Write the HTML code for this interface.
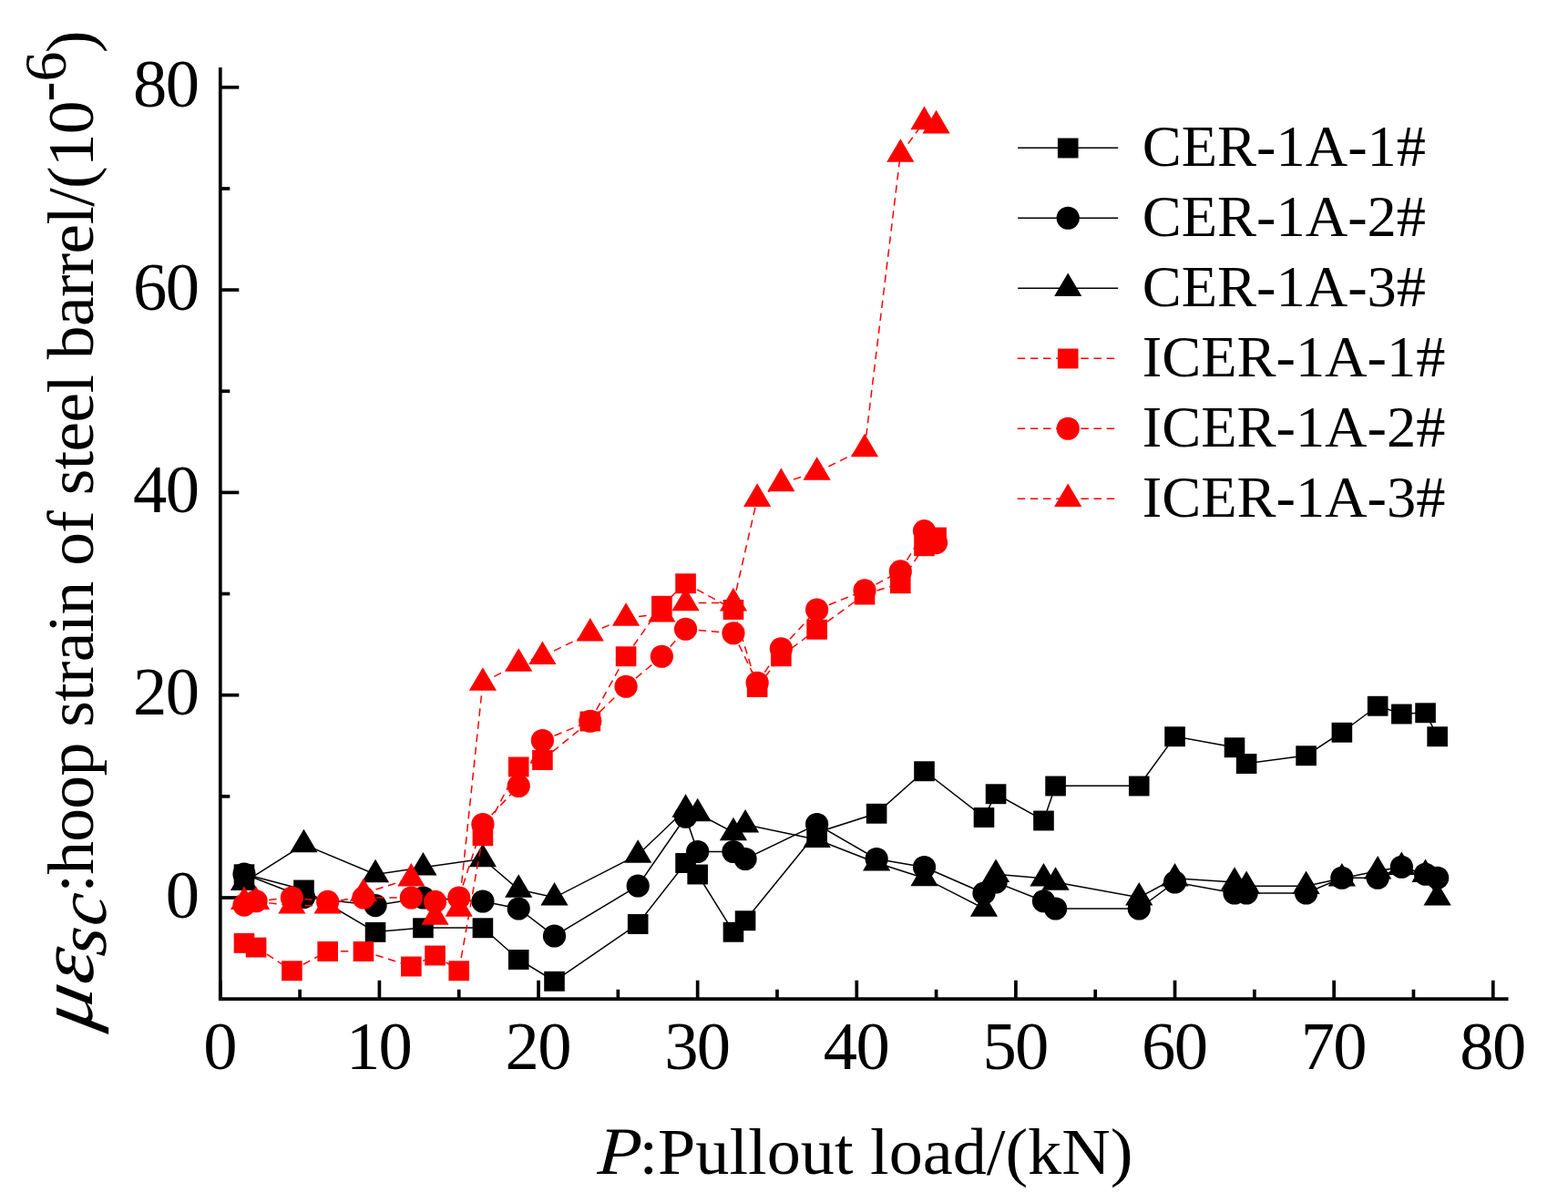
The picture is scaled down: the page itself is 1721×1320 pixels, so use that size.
<!DOCTYPE html>
<html lang="en">
<head>
<meta charset="utf-8">
<title>Hoop strain of steel barrel vs pullout load</title>
<style>
html,body{margin:0;padding:0;background:#fff;}
body{width:1721px;height:1320px;overflow:hidden;}
svg{display:block;}
svg text{font-family:"Liberation Serif","DejaVu Serif",serif;fill:#000;}
</style>
</head>
<body>
<svg width="1721" height="1320" viewBox="0 0 1721 1320">
<rect x="0" y="0" width="1721" height="1320" fill="#ffffff"/>
<g id="axes">
<line x1="241.8" y1="74" x2="241.8" y2="1098.05" stroke="#000" stroke-width="3.7"/>
<line x1="239.95" y1="1096.2" x2="1655.5" y2="1096.2" stroke="#000" stroke-width="3.7"/>
<line x1="241.8" y1="1096.2" x2="241.8" y2="1075.7" stroke="#000" stroke-width="3.7"/>
<line x1="329.11" y1="1096.2" x2="329.11" y2="1085.7" stroke="#000" stroke-width="3.7"/>
<line x1="416.42" y1="1096.2" x2="416.42" y2="1075.7" stroke="#000" stroke-width="3.7"/>
<line x1="503.73" y1="1096.2" x2="503.73" y2="1085.7" stroke="#000" stroke-width="3.7"/>
<line x1="591.04" y1="1096.2" x2="591.04" y2="1075.7" stroke="#000" stroke-width="3.7"/>
<line x1="678.35" y1="1096.2" x2="678.35" y2="1085.7" stroke="#000" stroke-width="3.7"/>
<line x1="765.66" y1="1096.2" x2="765.66" y2="1075.7" stroke="#000" stroke-width="3.7"/>
<line x1="852.97" y1="1096.2" x2="852.97" y2="1085.7" stroke="#000" stroke-width="3.7"/>
<line x1="940.28" y1="1096.2" x2="940.28" y2="1075.7" stroke="#000" stroke-width="3.7"/>
<line x1="1027.59" y1="1096.2" x2="1027.59" y2="1085.7" stroke="#000" stroke-width="3.7"/>
<line x1="1114.9" y1="1096.2" x2="1114.9" y2="1075.7" stroke="#000" stroke-width="3.7"/>
<line x1="1202.21" y1="1096.2" x2="1202.21" y2="1085.7" stroke="#000" stroke-width="3.7"/>
<line x1="1289.52" y1="1096.2" x2="1289.52" y2="1075.7" stroke="#000" stroke-width="3.7"/>
<line x1="1376.83" y1="1096.2" x2="1376.83" y2="1085.7" stroke="#000" stroke-width="3.7"/>
<line x1="1464.14" y1="1096.2" x2="1464.14" y2="1075.7" stroke="#000" stroke-width="3.7"/>
<line x1="1551.45" y1="1096.2" x2="1551.45" y2="1085.7" stroke="#000" stroke-width="3.7"/>
<line x1="1638.76" y1="1096.2" x2="1638.76" y2="1075.7" stroke="#000" stroke-width="3.7"/>
<line x1="241.8" y1="985" x2="262.3" y2="985" stroke="#000" stroke-width="3.7"/>
<line x1="241.8" y1="873.85" x2="252.3" y2="873.85" stroke="#000" stroke-width="3.7"/>
<line x1="241.8" y1="762.7" x2="262.3" y2="762.7" stroke="#000" stroke-width="3.7"/>
<line x1="241.8" y1="651.55" x2="252.3" y2="651.55" stroke="#000" stroke-width="3.7"/>
<line x1="241.8" y1="540.4" x2="262.3" y2="540.4" stroke="#000" stroke-width="3.7"/>
<line x1="241.8" y1="429.25" x2="252.3" y2="429.25" stroke="#000" stroke-width="3.7"/>
<line x1="241.8" y1="318.1" x2="262.3" y2="318.1" stroke="#000" stroke-width="3.7"/>
<line x1="241.8" y1="206.95" x2="252.3" y2="206.95" stroke="#000" stroke-width="3.7"/>
<line x1="241.8" y1="95.8" x2="262.3" y2="95.8" stroke="#000" stroke-width="3.7"/>
</g>
<g id="series">
<polyline points="267.99,959 333.48,976.25 412.05,1022.6 464.44,1018 529.92,1018 569.21,1052.7 608.5,1076.5 700.18,1013.75 752.56,946.75 765.66,959.25 804.95,1022.5 818.05,1010 896.62,913.5 962.11,892.5 1014.49,846 1079.98,896.75 1093.07,871 1145.46,900.25 1158.56,862.25 1250.23,862.25 1289.52,808 1355,820 1368.1,837.75 1433.58,829 1472.87,803.5 1512.16,774.5 1538.35,783.25 1564.55,782 1577.64,808" fill="none" stroke="#000000" stroke-width="1.5"/>
<rect x="256.69" y="948.3" width="22.6" height="21.9" fill="#000000"/>
<rect x="322.18" y="965.55" width="22.6" height="21.9" fill="#000000"/>
<rect x="400.75" y="1011.9" width="22.6" height="21.9" fill="#000000"/>
<rect x="453.14" y="1007.3" width="22.6" height="21.9" fill="#000000"/>
<rect x="518.62" y="1007.3" width="22.6" height="21.9" fill="#000000"/>
<rect x="557.91" y="1042" width="22.6" height="21.9" fill="#000000"/>
<rect x="597.2" y="1065.8" width="22.6" height="21.9" fill="#000000"/>
<rect x="688.88" y="1003.05" width="22.6" height="21.9" fill="#000000"/>
<rect x="741.26" y="936.05" width="22.6" height="21.9" fill="#000000"/>
<rect x="754.36" y="948.55" width="22.6" height="21.9" fill="#000000"/>
<rect x="793.65" y="1011.8" width="22.6" height="21.9" fill="#000000"/>
<rect x="806.75" y="999.3" width="22.6" height="21.9" fill="#000000"/>
<rect x="885.33" y="902.8" width="22.6" height="21.9" fill="#000000"/>
<rect x="950.81" y="881.8" width="22.6" height="21.9" fill="#000000"/>
<rect x="1003.19" y="835.3" width="22.6" height="21.9" fill="#000000"/>
<rect x="1068.68" y="886.05" width="22.6" height="21.9" fill="#000000"/>
<rect x="1081.77" y="860.3" width="22.6" height="21.9" fill="#000000"/>
<rect x="1134.16" y="889.55" width="22.6" height="21.9" fill="#000000"/>
<rect x="1147.26" y="851.55" width="22.6" height="21.9" fill="#000000"/>
<rect x="1238.93" y="851.55" width="22.6" height="21.9" fill="#000000"/>
<rect x="1278.22" y="797.3" width="22.6" height="21.9" fill="#000000"/>
<rect x="1343.7" y="809.3" width="22.6" height="21.9" fill="#000000"/>
<rect x="1356.8" y="827.05" width="22.6" height="21.9" fill="#000000"/>
<rect x="1422.28" y="818.3" width="22.6" height="21.9" fill="#000000"/>
<rect x="1461.57" y="792.8" width="22.6" height="21.9" fill="#000000"/>
<rect x="1500.86" y="763.8" width="22.6" height="21.9" fill="#000000"/>
<rect x="1527.05" y="772.55" width="22.6" height="21.9" fill="#000000"/>
<rect x="1553.25" y="771.3" width="22.6" height="21.9" fill="#000000"/>
<rect x="1566.34" y="797.3" width="22.6" height="21.9" fill="#000000"/>
<polyline points="267.99,959 333.48,984.5 412.05,993.6 464.44,985 529.92,989 569.21,997 608.5,1027 700.18,972 752.56,896.25 765.66,934.5 804.95,934.5 818.05,942.5 896.62,904.5 962.11,942.5 1014.49,951.5 1079.98,980 1093.07,968 1145.46,988.75 1158.56,997 1250.23,997 1289.52,968 1355,980 1368.1,980 1433.58,980 1472.87,963.25 1512.16,963.25 1538.35,951.25 1564.55,959.25 1577.64,963.25" fill="none" stroke="#000000" stroke-width="1.5"/>
<circle cx="267.99" cy="959" r="12.6" fill="#000000"/>
<circle cx="333.48" cy="984.5" r="12.6" fill="#000000"/>
<circle cx="412.05" cy="993.6" r="12.6" fill="#000000"/>
<circle cx="464.44" cy="985" r="12.6" fill="#000000"/>
<circle cx="529.92" cy="989" r="12.6" fill="#000000"/>
<circle cx="569.21" cy="997" r="12.6" fill="#000000"/>
<circle cx="608.5" cy="1027" r="12.6" fill="#000000"/>
<circle cx="700.18" cy="972" r="12.6" fill="#000000"/>
<circle cx="752.56" cy="896.25" r="12.6" fill="#000000"/>
<circle cx="765.66" cy="934.5" r="12.6" fill="#000000"/>
<circle cx="804.95" cy="934.5" r="12.6" fill="#000000"/>
<circle cx="818.05" cy="942.5" r="12.6" fill="#000000"/>
<circle cx="896.62" cy="904.5" r="12.6" fill="#000000"/>
<circle cx="962.11" cy="942.5" r="12.6" fill="#000000"/>
<circle cx="1014.49" cy="951.5" r="12.6" fill="#000000"/>
<circle cx="1079.98" cy="980" r="12.6" fill="#000000"/>
<circle cx="1093.07" cy="968" r="12.6" fill="#000000"/>
<circle cx="1145.46" cy="988.75" r="12.6" fill="#000000"/>
<circle cx="1158.56" cy="997" r="12.6" fill="#000000"/>
<circle cx="1250.23" cy="997" r="12.6" fill="#000000"/>
<circle cx="1289.52" cy="968" r="12.6" fill="#000000"/>
<circle cx="1355" cy="980" r="12.6" fill="#000000"/>
<circle cx="1368.1" cy="980" r="12.6" fill="#000000"/>
<circle cx="1433.58" cy="980" r="12.6" fill="#000000"/>
<circle cx="1472.87" cy="963.25" r="12.6" fill="#000000"/>
<circle cx="1512.16" cy="963.25" r="12.6" fill="#000000"/>
<circle cx="1538.35" cy="951.25" r="12.6" fill="#000000"/>
<circle cx="1564.55" cy="959.25" r="12.6" fill="#000000"/>
<circle cx="1577.64" cy="963.25" r="12.6" fill="#000000"/>
<polyline points="267.99,968.1 333.48,926.5 412.05,959.5 464.44,951.8 529.92,942.5 569.21,976 608.5,984.8 700.18,938 752.56,888 765.66,892.5 804.95,913.5 818.05,904.75 896.62,921.25 962.11,946.75 1014.49,963.5 1079.98,997 1093.07,959.25 1145.46,963.75 1158.56,968 1250.23,984.75 1289.52,963.75 1355,968 1368.1,972.25 1433.58,972.25 1472.87,963.75 1512.16,955.75 1538.35,951.25 1564.55,959.25 1577.64,984.75" fill="none" stroke="#000000" stroke-width="1.5"/>
<polygon points="267.99,951.3 283.09,976.9 252.89,976.9" fill="#000000"/>
<polygon points="333.48,909.7 348.58,935.3 318.38,935.3" fill="#000000"/>
<polygon points="412.05,942.7 427.15,968.3 396.95,968.3" fill="#000000"/>
<polygon points="464.44,935 479.54,960.6 449.34,960.6" fill="#000000"/>
<polygon points="529.92,925.7 545.02,951.3 514.82,951.3" fill="#000000"/>
<polygon points="569.21,959.2 584.31,984.8 554.11,984.8" fill="#000000"/>
<polygon points="608.5,968 623.6,993.6 593.4,993.6" fill="#000000"/>
<polygon points="700.18,921.2 715.28,946.8 685.08,946.8" fill="#000000"/>
<polygon points="752.56,871.2 767.66,896.8 737.46,896.8" fill="#000000"/>
<polygon points="765.66,875.7 780.76,901.3 750.56,901.3" fill="#000000"/>
<polygon points="804.95,896.7 820.05,922.3 789.85,922.3" fill="#000000"/>
<polygon points="818.05,887.95 833.15,913.55 802.95,913.55" fill="#000000"/>
<polygon points="896.62,904.45 911.73,930.05 881.52,930.05" fill="#000000"/>
<polygon points="962.11,929.95 977.21,955.55 947.01,955.55" fill="#000000"/>
<polygon points="1014.49,946.7 1029.59,972.3 999.39,972.3" fill="#000000"/>
<polygon points="1079.98,980.2 1095.08,1005.8 1064.88,1005.8" fill="#000000"/>
<polygon points="1093.07,942.45 1108.17,968.05 1077.97,968.05" fill="#000000"/>
<polygon points="1145.46,946.95 1160.56,972.55 1130.36,972.55" fill="#000000"/>
<polygon points="1158.56,951.2 1173.65,976.8 1143.46,976.8" fill="#000000"/>
<polygon points="1250.23,967.95 1265.33,993.55 1235.13,993.55" fill="#000000"/>
<polygon points="1289.52,946.95 1304.62,972.55 1274.42,972.55" fill="#000000"/>
<polygon points="1355,951.2 1370.1,976.8 1339.9,976.8" fill="#000000"/>
<polygon points="1368.1,955.45 1383.2,981.05 1353,981.05" fill="#000000"/>
<polygon points="1433.58,955.45 1448.68,981.05 1418.48,981.05" fill="#000000"/>
<polygon points="1472.87,946.95 1487.97,972.55 1457.77,972.55" fill="#000000"/>
<polygon points="1512.16,938.95 1527.26,964.55 1497.06,964.55" fill="#000000"/>
<polygon points="1538.35,934.45 1553.45,960.05 1523.25,960.05" fill="#000000"/>
<polygon points="1564.55,942.45 1579.65,968.05 1549.45,968.05" fill="#000000"/>
<polygon points="1577.64,967.95 1592.74,993.55 1562.54,993.55" fill="#000000"/>
<path d="M267.99 1034.6L281.09 1039.3 M281.09 1039.3L320.38 1065 M320.38 1065L359.67 1043.7 M359.67 1043.7L398.96 1043.7 M398.96 1043.7L451.34 1060.25 M451.34 1060.25L477.54 1048.25 M477.54 1048.25L503.73 1065 M503.73 1065L529.92 917 M529.92 917L569.21 841.25 M569.21 841.25L595.41 833.75 M595.41 833.75L647.79 791.25 M647.79 791.25L687.08 720 M687.08 720L726.37 664.5 M726.37 664.5L752.56 640 M752.56 640L804.95 668.75 M804.95 668.75L831.14 753.75 M831.14 753.75L857.34 720 M857.34 720L896.62 690.5 M896.62 690.5L949.01 652.3 M949.01 652.3L988.3 640 M988.3 640L1014.49 599 M1014.49 599L1027.59 589.3" fill="none" stroke="#ff0000" stroke-width="1.5" stroke-dasharray="8.5 5.65"/>
<rect x="256.69" y="1023.9" width="22.6" height="21.9" fill="#ff0000"/>
<rect x="269.79" y="1028.6" width="22.6" height="21.9" fill="#ff0000"/>
<rect x="309.08" y="1054.3" width="22.6" height="21.9" fill="#ff0000"/>
<rect x="348.37" y="1033" width="22.6" height="21.9" fill="#ff0000"/>
<rect x="387.66" y="1033" width="22.6" height="21.9" fill="#ff0000"/>
<rect x="440.04" y="1049.55" width="22.6" height="21.9" fill="#ff0000"/>
<rect x="466.24" y="1037.55" width="22.6" height="21.9" fill="#ff0000"/>
<rect x="492.43" y="1054.3" width="22.6" height="21.9" fill="#ff0000"/>
<rect x="518.62" y="906.3" width="22.6" height="21.9" fill="#ff0000"/>
<rect x="557.91" y="830.55" width="22.6" height="21.9" fill="#ff0000"/>
<rect x="584.11" y="823.05" width="22.6" height="21.9" fill="#ff0000"/>
<rect x="636.49" y="780.55" width="22.6" height="21.9" fill="#ff0000"/>
<rect x="675.78" y="709.3" width="22.6" height="21.9" fill="#ff0000"/>
<rect x="715.07" y="653.8" width="22.6" height="21.9" fill="#ff0000"/>
<rect x="741.26" y="629.3" width="22.6" height="21.9" fill="#ff0000"/>
<rect x="793.65" y="658.05" width="22.6" height="21.9" fill="#ff0000"/>
<rect x="819.84" y="743.05" width="22.6" height="21.9" fill="#ff0000"/>
<rect x="846.04" y="709.3" width="22.6" height="21.9" fill="#ff0000"/>
<rect x="885.33" y="679.8" width="22.6" height="21.9" fill="#ff0000"/>
<rect x="937.71" y="641.6" width="22.6" height="21.9" fill="#ff0000"/>
<rect x="977" y="629.3" width="22.6" height="21.9" fill="#ff0000"/>
<rect x="1003.19" y="588.3" width="22.6" height="21.9" fill="#ff0000"/>
<rect x="1016.29" y="578.6" width="22.6" height="21.9" fill="#ff0000"/>
<path d="M267.99 993.1L281.09 988.75 M281.09 988.75L320.38 985 M320.38 985L359.67 989.4 M359.67 989.4L398.96 985 M398.96 985L451.34 985 M451.34 985L477.54 989.4 M477.54 989.4L503.73 985 M503.73 985L529.92 904.5 M529.92 904.5L569.21 862.5 M569.21 862.5L595.41 812.5 M595.41 812.5L647.79 791.25 M647.79 791.25L687.08 753.25 M687.08 753.25L726.37 720.25 M726.37 720.25L752.56 690.25 M752.56 690.25L804.95 694.75 M804.95 694.75L831.14 749.25 M831.14 749.25L857.34 711.75 M857.34 711.75L896.62 669 M896.62 669L949.01 647.8 M949.01 647.8L988.3 626.9 M988.3 626.9L1014.49 582.6 M1014.49 582.6L1027.59 595.6" fill="none" stroke="#ff0000" stroke-width="1.5" stroke-dasharray="8.5 5.65"/>
<circle cx="267.99" cy="993.1" r="12.6" fill="#ff0000"/>
<circle cx="281.09" cy="988.75" r="12.6" fill="#ff0000"/>
<circle cx="320.38" cy="985" r="12.6" fill="#ff0000"/>
<circle cx="359.67" cy="989.4" r="12.6" fill="#ff0000"/>
<circle cx="398.96" cy="985" r="12.6" fill="#ff0000"/>
<circle cx="451.34" cy="985" r="12.6" fill="#ff0000"/>
<circle cx="477.54" cy="989.4" r="12.6" fill="#ff0000"/>
<circle cx="503.73" cy="985" r="12.6" fill="#ff0000"/>
<circle cx="529.92" cy="904.5" r="12.6" fill="#ff0000"/>
<circle cx="569.21" cy="862.5" r="12.6" fill="#ff0000"/>
<circle cx="595.41" cy="812.5" r="12.6" fill="#ff0000"/>
<circle cx="647.79" cy="791.25" r="12.6" fill="#ff0000"/>
<circle cx="687.08" cy="753.25" r="12.6" fill="#ff0000"/>
<circle cx="726.37" cy="720.25" r="12.6" fill="#ff0000"/>
<circle cx="752.56" cy="690.25" r="12.6" fill="#ff0000"/>
<circle cx="804.95" cy="694.75" r="12.6" fill="#ff0000"/>
<circle cx="831.14" cy="749.25" r="12.6" fill="#ff0000"/>
<circle cx="857.34" cy="711.75" r="12.6" fill="#ff0000"/>
<circle cx="896.62" cy="669" r="12.6" fill="#ff0000"/>
<circle cx="949.01" cy="647.8" r="12.6" fill="#ff0000"/>
<circle cx="988.3" cy="626.9" r="12.6" fill="#ff0000"/>
<circle cx="1014.49" cy="582.6" r="12.6" fill="#ff0000"/>
<circle cx="1027.59" cy="595.6" r="12.6" fill="#ff0000"/>
<path d="M267.99 989.3L281.09 989.3 M281.09 989.3L320.38 993.7 M320.38 993.7L359.67 993.7 M359.67 993.7L398.96 980.25 M398.96 980.25L451.34 963.7 M451.34 963.7L477.54 1006 M477.54 1006L503.73 996.9 M503.73 996.9L529.92 749 M529.92 749L569.21 728 M569.21 728L595.41 720.25 M595.41 720.25L647.79 694.75 M647.79 694.75L687.08 678 M687.08 678L726.37 673.75 M726.37 673.75L752.56 661.5 M752.56 661.5L804.95 661.6 M804.95 661.6L831.14 547.1 M831.14 547.1L857.34 530.4 M857.34 530.4L896.62 518 M896.62 518L949.01 492.5 M949.01 492.5L988.3 169 M988.3 169L1014.49 133.4 M1014.49 133.4L1027.59 137.6" fill="none" stroke="#ff0000" stroke-width="1.5" stroke-dasharray="8.5 5.65"/>
<polygon points="267.99,972.5 283.09,998.1 252.89,998.1" fill="#ff0000"/>
<polygon points="281.09,972.5 296.19,998.1 265.99,998.1" fill="#ff0000"/>
<polygon points="320.38,976.9 335.48,1002.5 305.28,1002.5" fill="#ff0000"/>
<polygon points="359.67,976.9 374.77,1002.5 344.57,1002.5" fill="#ff0000"/>
<polygon points="398.96,963.45 414.06,989.05 383.86,989.05" fill="#ff0000"/>
<polygon points="451.34,946.9 466.44,972.5 436.24,972.5" fill="#ff0000"/>
<polygon points="477.54,989.2 492.64,1014.8 462.44,1014.8" fill="#ff0000"/>
<polygon points="503.73,980.1 518.83,1005.7 488.63,1005.7" fill="#ff0000"/>
<polygon points="529.92,732.2 545.02,757.8 514.82,757.8" fill="#ff0000"/>
<polygon points="569.21,711.2 584.31,736.8 554.11,736.8" fill="#ff0000"/>
<polygon points="595.41,703.45 610.51,729.05 580.31,729.05" fill="#ff0000"/>
<polygon points="647.79,677.95 662.89,703.55 632.69,703.55" fill="#ff0000"/>
<polygon points="687.08,661.2 702.18,686.8 671.98,686.8" fill="#ff0000"/>
<polygon points="726.37,656.95 741.47,682.55 711.27,682.55" fill="#ff0000"/>
<polygon points="752.56,644.7 767.66,670.3 737.46,670.3" fill="#ff0000"/>
<polygon points="804.95,644.8 820.05,670.4 789.85,670.4" fill="#ff0000"/>
<polygon points="831.14,530.3 846.24,555.9 816.04,555.9" fill="#ff0000"/>
<polygon points="857.34,513.6 872.44,539.2 842.24,539.2" fill="#ff0000"/>
<polygon points="896.62,501.2 911.73,526.8 881.52,526.8" fill="#ff0000"/>
<polygon points="949.01,475.7 964.11,501.3 933.91,501.3" fill="#ff0000"/>
<polygon points="988.3,152.2 1003.4,177.8 973.2,177.8" fill="#ff0000"/>
<polygon points="1014.49,116.6 1029.59,142.2 999.39,142.2" fill="#ff0000"/>
<polygon points="1027.59,120.8 1042.69,146.4 1012.49,146.4" fill="#ff0000"/>
</g>
<g id="legend">
<line x1="1117.2" y1="162.25" x2="1227.2" y2="162.25" stroke="#000000" stroke-width="1.5"/>
<rect x="1160.9" y="151.55" width="22.6" height="21.9" fill="#000000"/>
<text x="1253.8" y="182.05" font-size="64.4">CER-1A-1#</text>
<line x1="1117.2" y1="239.25" x2="1227.2" y2="239.25" stroke="#000000" stroke-width="1.5"/>
<circle cx="1172.2" cy="239.25" r="12.6" fill="#000000"/>
<text x="1253.8" y="259.05" font-size="64.4">CER-1A-2#</text>
<line x1="1117.2" y1="316.25" x2="1227.2" y2="316.25" stroke="#000000" stroke-width="1.5"/>
<polygon points="1172.2,299.45 1187.3,325.05 1157.1,325.05" fill="#000000"/>
<text x="1253.8" y="336.05" font-size="64.4">CER-1A-3#</text>
<path d="M1116.7 393.25L1172.2 393.25M1172.2 393.25L1227.2 393.25" fill="none" stroke="#ff0000" stroke-width="1.5" stroke-dasharray="8.5 5.65"/>
<rect x="1160.9" y="382.55" width="22.6" height="21.9" fill="#ff0000"/>
<text x="1253.8" y="413.05" font-size="64.4">ICER-1A-1#</text>
<path d="M1116.7 470.25L1172.2 470.25M1172.2 470.25L1227.2 470.25" fill="none" stroke="#ff0000" stroke-width="1.5" stroke-dasharray="8.5 5.65"/>
<circle cx="1172.2" cy="470.25" r="12.6" fill="#ff0000"/>
<text x="1253.8" y="490.05" font-size="64.4">ICER-1A-2#</text>
<path d="M1116.7 547.25L1172.2 547.25M1172.2 547.25L1227.2 547.25" fill="none" stroke="#ff0000" stroke-width="1.5" stroke-dasharray="8.5 5.65"/>
<polygon points="1172.2,530.45 1187.3,556.05 1157.1,556.05" fill="#ff0000"/>
<text x="1253.8" y="567.05" font-size="64.4">ICER-1A-3#</text>
</g>
<g id="labels">
<text x="241.8" y="1173" font-size="74.6" text-anchor="middle">0</text>
<text x="415.62" y="1173" font-size="74.6" text-anchor="middle" letter-spacing="-1.6">10</text>
<text x="590.24" y="1173" font-size="74.6" text-anchor="middle" letter-spacing="-1.6">20</text>
<text x="764.86" y="1173" font-size="74.6" text-anchor="middle" letter-spacing="-1.6">30</text>
<text x="939.48" y="1173" font-size="74.6" text-anchor="middle" letter-spacing="-1.6">40</text>
<text x="1114.1" y="1173" font-size="74.6" text-anchor="middle" letter-spacing="-1.6">50</text>
<text x="1288.72" y="1173" font-size="74.6" text-anchor="middle" letter-spacing="-1.6">60</text>
<text x="1463.34" y="1173" font-size="74.6" text-anchor="middle" letter-spacing="-1.6">70</text>
<text x="1637.96" y="1173" font-size="74.6" text-anchor="middle" letter-spacing="-1.6">80</text>
<text x="219" y="1006.6" font-size="74.6" text-anchor="end">0</text>
<text x="217.4" y="784.3" font-size="74.6" text-anchor="end" letter-spacing="-1.6">20</text>
<text x="217.4" y="562" font-size="74.6" text-anchor="end" letter-spacing="-1.6">40</text>
<text x="217.4" y="339.7" font-size="74.6" text-anchor="end" letter-spacing="-1.6">60</text>
<text x="217.4" y="117.4" font-size="74.6" text-anchor="end" letter-spacing="-1.6">80</text>
<g id="x-title"><text transform="translate(655.29,1287.9) scale(0.78537,0.73893) skewX(-3)" font-size="100" style="font-style:italic">P</text><text transform="translate(701.5,1288) scale(1,0.98)" font-size="74.2">:Pullout load/(kN)</text></g>
<g id="y-title"><text transform="translate(101.15,1131.52) rotate(-90) scale(0.93675,0.84889) skewX(-10)" font-size="100" style="font-style:italic">μ</text><text transform="translate(101.84,1082.1) rotate(-90) scale(0.92558,0.86042) skewX(-10)" font-size="100" style="font-style:italic">ε</text><text transform="translate(116.23,1050.19) rotate(-90) scale(0.79487,0.76875) skewX(-6)" font-size="100" style="font-style:italic">s</text><text transform="translate(116.23,1017.54) rotate(-90) scale(0.78621,0.76875) skewX(-6)" font-size="100" style="font-style:italic">c</text><text transform="translate(101.7,979.6) rotate(-90) scale(1,0.975)" font-size="73.6" letter-spacing="-0.7">:hoop strain of steel barrel/(10</text><text transform="translate(71.7,111.6) rotate(-90)" font-size="66">-6</text><text transform="translate(101.7,58) rotate(-90)" font-size="73.6">)</text></g>
</g>
</svg>
</body>
</html>
